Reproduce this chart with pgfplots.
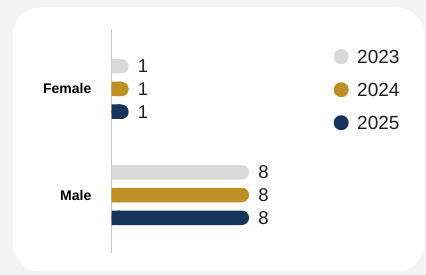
\documentclass[border=0pt]{standalone}
\usepackage{pgfplots}
\pgfplotsset{compat=1.18}
\usepackage{fontspec}
\setmainfont{Liberation Sans}
\definecolor{c23}{HTML}{D9D9D9}
\definecolor{c24}{HTML}{BD8F24}
\definecolor{c25}{HTML}{14345A}
\definecolor{bg}{HTML}{F4F4F4}
\definecolor{axl}{HTML}{C4C4C4}
\definecolor{txt}{HTML}{1E1E1E}
\begin{document}
\begin{tikzpicture}
\path[use as bounding box, fill=bg] (0,0) rectangle (426pt,275pt);
\fill[white, rounded corners=27pt] (13pt,3.5pt) rectangle (424pt,267.5pt);
\begin{axis}[
  at={(111.5pt,22pt)}, anchor=south west,
  scale only axis, width=172pt, height=224pt,
  xmin=0, xmax=10, ymin=-0.547, ymax=1.566,
  xbar, bar width=14.5pt,
  axis x line=none, axis y line=left,
  y axis line style={-, draw=axl, line width=0.8pt},
  ytick={0,1}, yticklabels={Male,Female},
  major tick length=0pt, xtick=\empty,
  yticklabel style={font=\bfseries\fontsize{14}{14}\selectfont, inner sep=0pt, xshift=-20pt, text=black},
  clip=false,
  /pgf/number format/assume math mode=true,
  nodes near coords style={font=\fontsize{18.5}{18.5}\selectfont, inner sep=0pt, xshift=9pt, text=txt, anchor=west},
  legend style={at={(rel axis cs:1,1)}, anchor=north west, xshift=50pt, yshift=-20pt,
    draw=none, fill=none, inner sep=0pt, font=\fontsize{19}{19}\selectfont, text=txt,
    row sep=18pt, nodes={inner sep=0pt, text height=14pt, text depth=0pt},
    /tikz/every odd column/.append style={column sep=8.5pt}},
  legend cell align=left,
  legend image code/.code={\fill (7.5pt,0pt) circle (7.5pt);},
]
\addplot[draw=none, fill=c23, rounded corners=7.25pt, bar shift=22.75pt, nodes near coords] coordinates {(8,0) (1,1)};
\addlegendentry{2023}
\addplot[draw=none, fill=c24, rounded corners=7.25pt, bar shift=0pt, nodes near coords] coordinates {(8,0) (1,1)};
\addlegendentry{2024}
\addplot[draw=none, fill=c25, rounded corners=7.25pt, bar shift=-22.75pt, nodes near coords] coordinates {(8,0) (1,1)};
\addlegendentry{2025}
% square left ends of the bars
\addplot[draw=none, fill=c23, bar shift=22.75pt, forget plot] coordinates {(0.5,0) (0.5,1)};
\addplot[draw=none, fill=c24, bar shift=0pt, forget plot] coordinates {(0.5,0) (0.5,1)};
\addplot[draw=none, fill=c25, bar shift=-22.75pt, forget plot] coordinates {(0.5,0) (0.5,1)};
\end{axis}
\end{tikzpicture}
\end{document}
